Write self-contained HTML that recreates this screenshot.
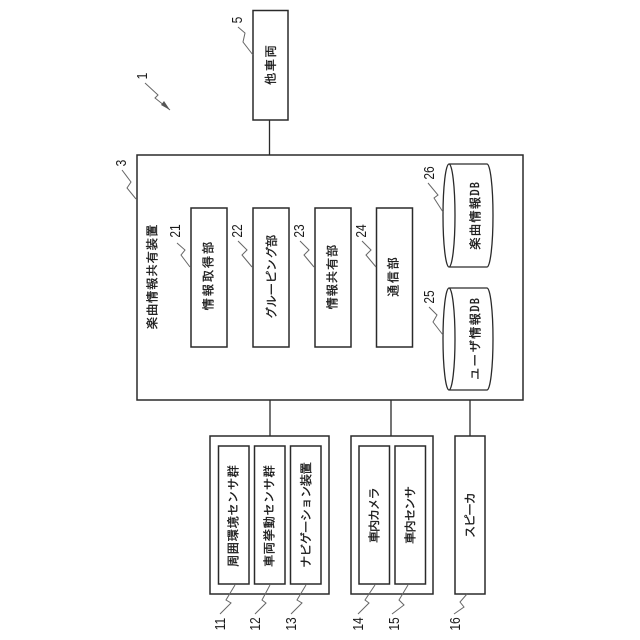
<!DOCTYPE html>
<html><head><meta charset="utf-8"><style>
html,body{margin:0;padding:0;background:#fff}
svg{display:block}
.b{fill:#fff;stroke:#2a2a2a;stroke-width:1.5}
.c{fill:none;stroke:#2a2a2a;stroke-width:1.3}
.l{fill:none;stroke:#666;stroke-width:1}
text{fill:#1a1a1a;dominant-baseline:central;text-anchor:middle}
.j{font:12.5px "IPAGothic","Noto Sans CJK JP",sans-serif}
.j text{stroke:#1a1a1a;stroke-width:.3}
.n{font:15px "Liberation Sans",sans-serif}
</style></head><body>
<svg width="640" height="640" viewBox="0 0 640 640" xmlns="http://www.w3.org/2000/svg">
<rect width="640" height="640" fill="#fff"/>
<path class="c" d="M269.500 120V155M270 400V436M391 400V436M470 400V436"/>
<rect class="b" x="253" y="10.500" width="35" height="109.500"/>
<rect class="b" x="137" y="155" width="386" height="245"/>
<rect class="b" x="191" y="208" width="36" height="139"/>
<rect class="b" x="253" y="208" width="36" height="139"/>
<rect class="b" x="315" y="208" width="36" height="139"/>
<rect class="b" x="376.500" y="208" width="36" height="139"/>
<path class="c" d="M449 164H487A6 51.500 0 0 1 487 267H449A6 51.500 0 0 1 449 164A6 51.500 0 0 1 449 267"/>
<path class="c" d="M449 288H487A6 51 0 0 1 487 390H449A6 51 0 0 1 449 288A6 51 0 0 1 449 390"/>
<rect class="b" x="210" y="436" width="119" height="158"/>
<rect class="b" x="218.500" y="446" width="30.500" height="138"/>
<rect class="b" x="254.500" y="446" width="30.500" height="138"/>
<rect class="b" x="290.500" y="446" width="30.500" height="138"/>
<rect class="b" x="351" y="436" width="82" height="158"/>
<rect class="b" x="359" y="446" width="30.500" height="138"/>
<rect class="b" x="395" y="446" width="30.500" height="138"/>
<rect class="b" x="455" y="436" width="30" height="158"/>
<g class="j">
<text transform="translate(270.500 65) rotate(-90)" textLength="40" lengthAdjust="spacing">他車両</text>
<text transform="translate(152 277) rotate(-90)" textLength="105" lengthAdjust="spacing">楽曲情報共有装置</text>
<text transform="translate(208 276) rotate(-90)" textLength="69" lengthAdjust="spacing">情報取得部</text>
<text transform="translate(271.500 277) rotate(-90)" textLength="85" lengthAdjust="spacing">グルーピング部</text>
<text transform="translate(332 277) rotate(-90)" textLength="65" lengthAdjust="spacing">情報共有部</text>
<text transform="translate(393 277) rotate(-90)" textLength="40" lengthAdjust="spacing">通信部</text>
<text transform="translate(475 216) rotate(-90)" textLength="68" lengthAdjust="spacing">楽曲情報DB</text>
<text transform="translate(475 339) rotate(-90)" textLength="82" lengthAdjust="spacing">ユーザ情報DB</text>
<text transform="translate(233 516) rotate(-90)" textLength="102" lengthAdjust="spacing">周囲環境センサ群</text>
<text transform="translate(269 516) rotate(-90)" textLength="102" lengthAdjust="spacing">車両挙動センサ群</text>
<text transform="translate(306 515) rotate(-90)" textLength="106" lengthAdjust="spacing">ナビゲーション装置</text>
<text transform="translate(374 515) rotate(-90)" textLength="56" lengthAdjust="spacing">車内カメラ</text>
<text transform="translate(410 515) rotate(-90)" textLength="58" lengthAdjust="spacing">車内センサ</text>
<text transform="translate(470 515) rotate(-90)" textLength="46" lengthAdjust="spacing">スピーカ</text>
</g>
<g class="n">
<text transform="translate(142 76) rotate(-90) scale(.8 1)">1</text>
<text transform="translate(237 20) rotate(-90) scale(.8 1)">5</text>
<text transform="translate(121 163) rotate(-90) scale(.8 1)">3</text>
<text transform="translate(175 231) rotate(-90) scale(.8 1)">21</text>
<text transform="translate(237 231) rotate(-90) scale(.8 1)">22</text>
<text transform="translate(299 231) rotate(-90) scale(.8 1)">23</text>
<text transform="translate(361 231) rotate(-90) scale(.8 1)">24</text>
<text transform="translate(429 173) rotate(-90) scale(.8 1)">26</text>
<text transform="translate(429 297) rotate(-90) scale(.8 1)">25</text>
<text transform="translate(220 624) rotate(-90) scale(.8 1)">11</text>
<text transform="translate(255 624) rotate(-90) scale(.8 1)">12</text>
<text transform="translate(291 624) rotate(-90) scale(.8 1)">13</text>
<text transform="translate(358 624) rotate(-90) scale(.8 1)">14</text>
<text transform="translate(394 624) rotate(-90) scale(.8 1)">15</text>
<text transform="translate(455 624) rotate(-90) scale(.8 1)">16</text>
</g>
<path class="l" d="M238 27L245 33L243 42L253 55"/>
<path class="l" d="M145 83L158 95L155 98L170 110"/>
<path d="M170 110L161 105L164 101Z" fill="#555"/>
<path class="l" d="M122 170L131 182L127 188L136 199"/>
<path class="l" d="M177 243L185 250L181 255L190 267"/>
<path class="l" d="M238 241L247 250L242 255L252 267"/>
<path class="l" d="M300 241L309 250L304 255L314 267"/>
<path class="l" d="M362 241L371 250L366 255L376 267"/>
<path class="l" d="M428 183L438 195L434 198L443 212"/>
<path class="l" d="M429 307L437 315L433 322L443 335"/>
<path class="l" d="M235 585L226 600L231 603L220 614"/>
<path class="l" d="M270 585L262 600L266 603L255 614"/>
<path class="l" d="M306 585L297 600L302 603L291 614"/>
<path class="l" d="M375 585L365 600L369 603L358 614"/>
<path class="l" d="M408 585L399 600L404 605L392 614"/>
<path class="l" d="M467 594L460 602L464 607L454 614"/>
</svg>
</body></html>
